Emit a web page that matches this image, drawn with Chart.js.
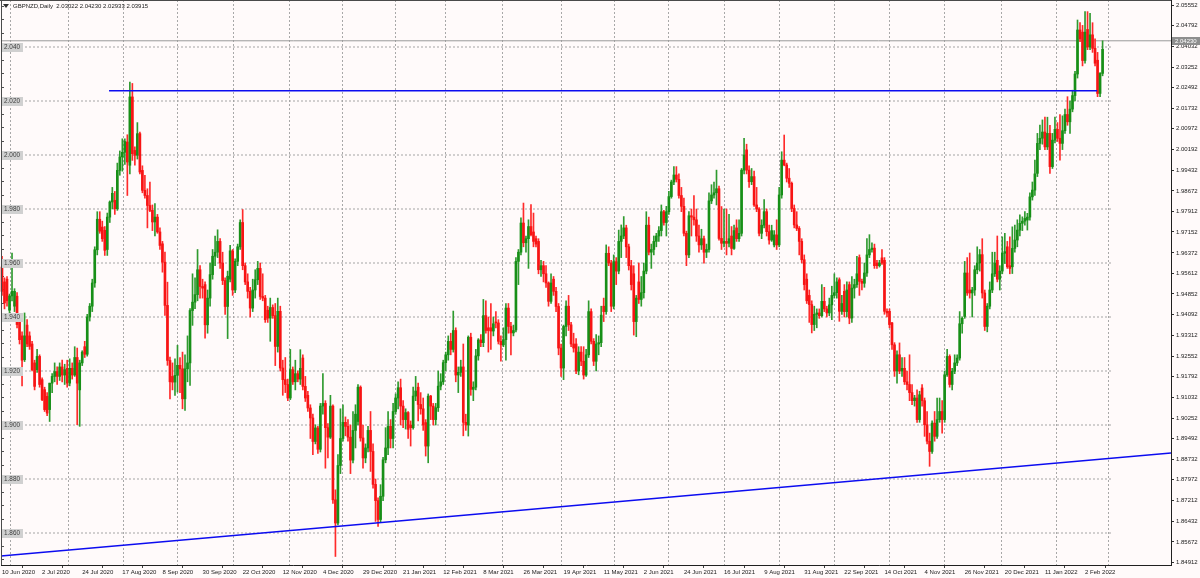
<!DOCTYPE html>
<html><head><meta charset="utf-8">
<script src="https://cdn.jsdelivr.net/npm/chart.js@4.4.1/dist/chart.umd.min.js"></script>
<style>html,body{margin:0;padding:0;background:#fffafa;overflow:hidden}canvas{display:block}</style>
</head><body>
<canvas id="c" width="1200" height="578"></canvas>
<script>
const symbolTitle = "GBPNZD,Daily";
const lastQuote = ["2.03022", "2.04230", "2.02933", "2.03915"];
const bidPrice = 2.04230;
const bidLabel = "2.04230";

const dateLabels = ["10 Jun 2020","2 Jul 2020","24 Jul 2020","17 Aug 2020","8 Sep 2020","30 Sep 2020","22 Oct 2020","12 Nov 2020","4 Dec 2020","29 Dec 2020","21 Jan 2021","12 Feb 2021","8 Mar 2021","26 Mar 2021","19 Apr 2021","11 May 2021","2 Jun 2021","24 Jun 2021","16 Jul 2021","9 Aug 2021","31 Aug 2021","22 Sep 2021","14 Oct 2021","4 Nov 2021","26 Nov 2021","20 Dec 2021","11 Jan 2022","2 Feb 2022"];
const dateIdx = [0,16,32,48,64,80,96,112,128,144,160,176,192,208,224,240,256,272,288,304,320,336,352,368,384,400,416,432];
const monthIdx = [15,38,59,81,104,125,147,167,187,212,234,255,277,299,321,343,365,387,410,431];

const priceTicks = ["2.05552","2.04792","2.04032","2.03252","2.02492","2.01732","2.00972","2.00192","1.99432","1.98672","1.97912","1.97152","1.96372","1.95612","1.94852","1.94092","1.93312","1.92552","1.91792","1.91032","1.90252","1.89492","1.88732","1.87972","1.87212","1.86432","1.85672","1.84912"];
const leftTickVals = [1.850,1.855,1.860,1.865,1.870,1.875,1.880,1.885,1.890,1.895,1.900,1.905,1.910,1.915,1.920,1.925,1.930,1.935,1.940,1.945,1.950,1.955,1.960,1.965,1.970,1.975,1.980,1.985,1.990,1.995,2.000,2.005,2.010,2.015,2.020,2.025,2.030,2.035,2.040,2.045,2.050,2.055];

const roundLevels = [2.040,2.020,2.000,1.980,1.960,1.940,1.920,1.900,1.880,1.860];
const levelLabels = ["2.040","2.020","2.000","1.980","1.960","1.940","1.920","1.900","1.880","1.860"];
const levelEndX = 442.8;

const resistanceX = [42.7, 436.8];
const resistanceY = [2.0238, 2.0238];
const trendX = [-0.4, 466.3];
const trendY = [1.85148, 1.88963];

const openP = [
1.9585,1.9530,1.9540,1.9425,1.9478,1.9440,1.9477,1.9400,1.9330,1.9242,
1.9370,1.9330,1.9300,1.9230,1.9205,1.9254,1.9168,1.9131,1.9106,1.9057,
1.9155,1.9180,1.9198,1.9180,1.9215,1.9185,1.9210,1.9155,1.9210,1.9185,
1.9250,1.9130,1.9230,1.9290,1.9262,1.9400,1.9440,1.9526,1.9649,1.9762,
1.9733,1.9721,1.9650,1.9770,1.9826,1.9832,1.9801,1.9943,1.9993,2.0010,
2.0048,1.9962,2.0215,2.0017,1.9999,2.0079,1.9943,1.9869,1.9850,1.9813,
1.9795,1.9752,1.9770,1.9715,1.9671,1.9603,1.9443,1.9239,1.9180,1.9159,
1.9184,1.9221,1.9208,1.9097,1.9208,1.9230,1.9424,1.9455,1.9483,1.9575,
1.9513,1.9520,1.9371,1.9470,1.9557,1.9625,1.9640,1.9680,1.9600,1.9535,
1.9439,1.9540,1.9645,1.9500,1.9606,1.9660,1.9750,1.9590,1.9530,1.9495,
1.9433,1.9500,1.9538,1.9580,1.9476,1.9470,1.9425,1.9396,1.9435,1.9405,
1.9291,1.9421,1.9211,1.9168,1.9150,1.9100,1.9205,1.9160,1.9190,1.9170,
1.9248,1.9143,1.9110,1.9063,1.9026,1.8939,1.8989,1.8910,1.9070,1.9080,
1.8990,1.8955,1.9070,1.8723,1.8637,1.8850,1.8950,1.9010,1.8995,1.8955,
1.8870,1.8980,1.9013,1.9140,1.8952,1.8878,1.8915,1.8980,1.8902,1.8780,
1.8720,1.8650,1.8736,1.8871,1.8915,1.8995,1.8950,1.9050,1.9100,1.9138,
1.9070,1.9020,1.9046,1.9000,1.8990,1.9107,1.9140,1.9076,1.9060,1.9009,
1.8922,1.9107,1.9070,1.9020,1.9064,1.9144,1.9160,1.9231,1.9260,1.9310,
1.9280,1.9350,1.9185,1.9195,1.9215,1.9010,1.9000,1.9325,1.9132,1.9140,
1.9256,1.9315,1.9305,1.9405,1.9360,1.9360,1.9348,1.9380,1.9378,1.9310,
1.9297,1.9316,1.9433,1.9365,1.9341,1.9352,1.9606,1.9640,1.9748,1.9675,
1.9690,1.9735,1.9715,1.9690,1.9680,1.9575,1.9590,1.9560,1.9526,1.9458,
1.9540,1.9495,1.9439,1.9285,1.9211,1.9365,1.9440,1.9371,1.9300,1.9300,
1.9200,1.9270,1.9236,1.9185,1.9260,1.9420,1.9310,1.9236,1.9300,1.9305,
1.9440,1.9420,1.9636,1.9600,1.9440,1.9605,1.9570,1.9680,1.9700,1.9730,
1.9660,1.9590,1.9560,1.9383,1.9530,1.9465,1.9490,1.9570,1.9740,1.9640,
1.9650,1.9680,1.9700,1.9720,1.9790,1.9750,1.9790,1.9846,1.9900,1.9926,
1.9910,1.9850,1.9810,1.9710,1.9630,1.9775,1.9770,1.9760,1.9700,1.9667,
1.9690,1.9640,1.9650,1.9830,1.9852,1.9860,1.9875,1.9691,1.9673,1.9680,
1.9673,1.9700,1.9654,1.9730,1.9690,1.9710,1.9944,2.0019,1.9944,1.9901,
1.9920,1.9815,1.9800,1.9710,1.9740,1.9790,1.9716,1.9685,1.9667,1.9704,
1.9667,1.9852,1.9981,1.9963,1.9914,1.9895,1.9802,1.9741,1.9728,1.9680,
1.9612,1.9540,1.9480,1.9446,1.9372,1.9410,1.9415,1.9405,1.9458,1.9430,
1.9415,1.9445,1.9480,1.9490,1.9538,1.9421,1.9495,1.9420,1.9520,1.9396,
1.9507,1.9520,1.9620,1.9532,1.9525,1.9563,1.9630,1.9650,1.9655,1.9600,
1.9590,1.9619,1.9610,1.9421,1.9421,1.9378,1.9297,1.9200,1.9260,1.9200,
1.9210,1.9160,1.9150,1.9120,1.9090,1.9100,1.9020,1.9137,1.9090,1.9001,
1.8940,1.8902,1.9007,1.8958,1.9020,1.9050,1.9020,1.9186,1.9254,1.9150,
1.9199,1.9230,1.9248,1.9375,1.9402,1.9563,1.9500,1.9489,1.9500,1.9575,
1.9600,1.9631,1.9489,1.9365,1.9440,1.9500,1.9560,1.9610,1.9540,1.9570,
1.9636,1.9660,1.9590,1.9586,1.9654,1.9685,1.9722,1.9747,1.9755,1.9759,
1.9770,1.9845,1.9870,1.9932,2.0043,2.0062,2.0085,2.0030,2.0080,1.9957,
2.0055,2.0095,2.0062,2.0043,2.0090,2.0150,2.0123,2.0170,2.0220,2.0300,
2.0463,2.0455,2.0350,2.0465,2.0400,2.0445,2.0395,2.0351,2.0228,2.03022];

const highP = [
1.9625,1.9545,1.9550,1.9485,1.9637,1.9505,1.9490,1.9410,1.9345,1.9415,
1.9390,1.9345,1.9310,1.9240,1.9280,1.9260,1.9175,1.9140,1.9120,1.9155,
1.9190,1.9230,1.9215,1.9230,1.9240,1.9225,1.9240,1.9245,1.9230,1.9290,
1.9285,1.9240,1.9275,1.9310,1.9410,1.9450,1.9540,1.9660,1.9790,1.9790,
1.9755,1.9735,1.9785,1.9830,1.9880,1.9865,1.9970,2.0015,2.0060,2.0060,
2.0075,2.0270,2.0265,2.0030,2.0120,2.0085,1.9960,1.9925,1.9875,1.9900,
1.9815,1.9820,1.9780,1.9730,1.9680,1.9640,1.9529,1.9252,1.9230,1.9245,
1.9295,1.9250,1.9270,1.9260,1.9330,1.9431,1.9560,1.9545,1.9650,1.9590,
1.9540,1.9530,1.9500,1.9600,1.9650,1.9700,1.9723,1.9690,1.9640,1.9545,
1.9570,1.9665,1.9650,1.9615,1.9670,1.9760,1.9798,1.9600,1.9560,1.9510,
1.9540,1.9575,1.9606,1.9600,1.9560,1.9480,1.9440,1.9470,1.9445,1.9450,
1.9470,1.9440,1.9240,1.9250,1.9170,1.9280,1.9215,1.9240,1.9200,1.9279,
1.9260,1.9180,1.9125,1.9075,1.9040,1.9001,1.8995,1.9080,1.9190,1.9090,
1.9005,1.9110,1.9075,1.8760,1.8890,1.9060,1.9075,1.9030,1.9020,1.9000,
1.9050,1.9075,1.9150,1.9145,1.9000,1.8930,1.8995,1.9050,1.8930,1.8800,
1.8730,1.8779,1.8880,1.8990,1.9050,1.9020,1.9080,1.9115,1.9160,1.9170,
1.9090,1.9060,1.9050,1.9015,1.9140,1.9180,1.9155,1.9120,1.9100,1.9020,
1.9115,1.9110,1.9080,1.9080,1.9200,1.9190,1.9240,1.9270,1.9330,1.9340,
1.9422,1.9360,1.9215,1.9240,1.9300,1.9040,1.9330,1.9340,1.9160,1.9280,
1.9320,1.9335,1.9465,1.9460,1.9400,1.9450,1.9400,1.9420,1.9390,1.9330,
1.9360,1.9450,1.9450,1.9380,1.9370,1.9620,1.9650,1.9767,1.9822,1.9700,
1.9760,1.9816,1.9785,1.9700,1.9690,1.9610,1.9606,1.9590,1.9530,1.9560,
1.9550,1.9510,1.9450,1.9300,1.9370,1.9460,1.9480,1.9380,1.9340,1.9320,
1.9290,1.9290,1.9290,1.9280,1.9460,1.9430,1.9320,1.9335,1.9330,1.9440,
1.9470,1.9667,1.9660,1.9610,1.9630,1.9620,1.9722,1.9741,1.9772,1.9740,
1.9670,1.9610,1.9590,1.9480,1.9600,1.9550,1.9600,1.9790,1.9770,1.9670,
1.9700,1.9710,1.9735,1.9815,1.9795,1.9810,1.9865,1.9907,1.9957,1.9957,
1.9930,1.9880,1.9840,1.9718,1.9790,1.9800,1.9850,1.9800,1.9740,1.9725,
1.9700,1.9670,1.9860,1.9890,1.9900,1.9944,1.9885,1.9809,1.9800,1.9800,
1.9780,1.9735,1.9740,1.9760,1.9760,1.9950,2.0062,2.0040,1.9960,1.9950,
1.9940,1.9880,1.9805,1.9760,1.9835,1.9800,1.9740,1.9740,1.9720,1.9760,
1.9880,2.0012,2.0074,1.9970,1.9950,1.9900,1.9815,1.9790,1.9735,1.9690,
1.9630,1.9560,1.9500,1.9460,1.9440,1.9430,1.9430,1.9520,1.9510,1.9440,
1.9470,1.9514,1.9560,1.9545,1.9545,1.9480,1.9520,1.9530,1.9530,1.9550,
1.9540,1.9625,1.9630,1.9540,1.9600,1.9690,1.9705,1.9675,1.9670,1.9610,
1.9610,1.9650,1.9620,1.9430,1.9430,1.9380,1.9305,1.9275,1.9304,1.9250,
1.9250,1.9200,1.9260,1.9150,1.9110,1.9130,1.9125,1.9150,1.9100,1.9050,
1.8970,1.9015,1.9050,1.9100,1.9100,1.9090,1.9200,1.9280,1.9260,1.9210,
1.9260,1.9260,1.9420,1.9400,1.9606,1.9620,1.9637,1.9510,1.9590,1.9660,
1.9650,1.9690,1.9500,1.9450,1.9530,1.9640,1.9640,1.9700,1.9590,1.9697,
1.9710,1.9680,1.9697,1.9734,1.9740,1.9760,1.9778,1.9771,1.9790,1.9784,
1.9860,1.9900,1.9981,2.0080,2.0111,2.0130,2.0140,2.0140,2.0110,2.0080,
2.0140,2.0120,2.0150,2.0145,2.0170,2.0216,2.0200,2.0240,2.0310,2.0500,
2.0490,2.0480,2.0531,2.0531,2.0525,2.0490,2.0430,2.0380,2.0305,2.04230];

const lowP = [
1.9480,1.9430,1.9440,1.9400,1.9460,1.9420,1.9360,1.9300,1.9145,1.9235,
1.9290,1.9280,1.9200,1.9130,1.9195,1.9140,1.9090,1.9050,1.9035,1.9013,
1.9120,1.9160,1.9150,1.9165,1.9160,1.9150,1.9140,1.9145,1.9170,1.9180,
1.9001,1.8995,1.9220,1.9250,1.9255,1.9385,1.9420,1.9510,1.9630,1.9710,
1.9680,1.9628,1.9628,1.9750,1.9800,1.9780,1.9795,1.9925,1.9940,1.9965,
1.9850,1.9930,1.9980,1.9962,1.9985,1.9930,1.9860,1.9840,1.9730,1.9790,
1.9720,1.9700,1.9710,1.9650,1.9566,1.9406,1.9221,1.9097,1.9130,1.9110,
1.9122,1.9120,1.9060,1.9054,1.9160,1.9147,1.9369,1.9431,1.9460,1.9470,
1.9470,1.9322,1.9340,1.9440,1.9540,1.9590,1.9620,1.9580,1.9520,1.9410,
1.9320,1.9530,1.9480,1.9490,1.9590,1.9650,1.9575,1.9520,1.9470,1.9400,
1.9420,1.9470,1.9520,1.9465,1.9460,1.9380,1.9380,1.9310,1.9395,1.9220,
1.9270,1.9200,1.9110,1.9120,1.9090,1.9094,1.9150,1.9130,1.9160,1.9150,
1.9130,1.9087,1.9050,1.8950,1.8890,1.8930,1.8895,1.8900,1.9040,1.8840,
1.8878,1.8950,1.8710,1.8513,1.8630,1.8820,1.8940,1.8960,1.8940,1.8820,
1.8860,1.8915,1.9000,1.8940,1.8840,1.8860,1.8900,1.8828,1.8766,1.8643,
1.8624,1.8640,1.8720,1.8860,1.8890,1.8915,1.8915,1.9040,1.9060,1.9000,
1.8990,1.8985,1.8950,1.8922,1.8985,1.9090,1.9015,1.9040,1.8980,1.8885,
1.8860,1.9020,1.9000,1.9000,1.9050,1.9130,1.9150,1.9200,1.9240,1.9260,
1.9270,1.9160,1.9120,1.9180,1.8960,1.8980,1.8959,1.9110,1.9090,1.9130,
1.9240,1.9290,1.9290,1.9340,1.9270,1.9280,1.9330,1.9360,1.9300,1.9236,
1.9290,1.9240,1.9340,1.9260,1.9330,1.9345,1.9520,1.9630,1.9660,1.9640,
1.9580,1.9700,1.9660,1.9660,1.9560,1.9550,1.9530,1.9510,1.9440,1.9450,
1.9480,1.9420,1.9260,1.9180,1.9168,1.9330,1.9350,1.9290,1.9270,1.9190,
1.9186,1.9220,1.9170,1.9180,1.9250,1.9300,1.9220,1.9200,1.9260,1.9290,
1.9383,1.9410,1.9590,1.9420,1.9430,1.9520,1.9560,1.9620,1.9690,1.9620,
1.9574,1.9500,1.9333,1.9327,1.9450,1.9440,1.9470,1.9560,1.9630,1.9580,
1.9630,1.9660,1.9680,1.9700,1.9740,1.9700,1.9780,1.9840,1.9890,1.9900,
1.9840,1.9790,1.9700,1.9590,1.9620,1.9700,1.9740,1.9680,1.9640,1.9650,
1.9599,1.9620,1.9640,1.9820,1.9840,1.9815,1.9685,1.9650,1.9660,1.9630,
1.9660,1.9630,1.9650,1.9680,1.9680,1.9700,1.9930,1.9930,1.9880,1.9890,
1.9810,1.9790,1.9700,1.9690,1.9730,1.9700,1.9670,1.9680,1.9660,1.9650,
1.9660,1.9840,1.9960,1.9900,1.9880,1.9790,1.9730,1.9720,1.9630,1.9600,
1.9500,1.9450,1.9380,1.9341,1.9350,1.9360,1.9395,1.9400,1.9420,1.9400,
1.9405,1.9390,1.9470,1.9470,1.9384,1.9410,1.9400,1.9400,1.9375,1.9380,
1.9470,1.9510,1.9480,1.9500,1.9510,1.9550,1.9620,1.9640,1.9580,1.9580,
1.9585,1.9595,1.9410,1.9400,1.9360,1.9280,1.9180,1.9155,1.9190,1.9180,
1.9150,1.9130,1.9090,1.9075,1.9070,1.9010,1.9010,1.9070,1.8958,1.8930,
1.8847,1.8895,1.8940,1.8950,1.9010,1.8970,1.9010,1.9180,1.9140,1.9130,
1.9190,1.9220,1.9240,1.9340,1.9395,1.9480,1.9470,1.9400,1.9480,1.9560,
1.9570,1.9470,1.9350,1.9345,1.9430,1.9490,1.9550,1.9530,1.9500,1.9560,
1.9598,1.9580,1.9560,1.9561,1.9640,1.9660,1.9700,1.9720,1.9740,1.9722,
1.9759,1.9833,1.9850,1.9920,2.0020,2.0040,2.0020,2.0020,1.9932,1.9950,
2.0045,2.0050,1.9981,2.0020,2.0080,2.0110,2.0080,2.0160,2.0200,2.0285,
2.0420,2.0330,2.0340,2.0390,2.0390,2.0380,2.0330,2.0216,2.0216,2.02933];

const closeP = [
1.9495,1.9452,1.9460,1.9478,1.9495,1.9495,1.9372,1.9316,1.9240,1.9330,
1.9300,1.9291,1.9205,1.9143,1.9254,1.9150,1.9094,1.9057,1.9044,1.9155,
1.9180,1.9198,1.9180,1.9215,1.9185,1.9205,1.9155,1.9210,1.9185,1.9250,
1.9155,1.9230,1.9270,1.9262,1.9400,1.9440,1.9526,1.9649,1.9762,1.9718,
1.9690,1.9647,1.9770,1.9826,1.9858,1.9801,1.9943,1.9993,2.0010,2.0050,
1.9974,2.0215,2.0005,1.9999,2.0079,1.9937,1.9869,1.9850,1.9813,1.9795,
1.9752,1.9770,1.9715,1.9665,1.9603,1.9443,1.9239,1.9160,1.9159,1.9184,
1.9221,1.9208,1.9097,1.9208,1.9230,1.9424,1.9455,1.9483,1.9575,1.9513,
1.9507,1.9371,1.9470,1.9557,1.9625,1.9640,1.9680,1.9600,1.9535,1.9439,
1.9551,1.9645,1.9500,1.9606,1.9660,1.9750,1.9590,1.9530,1.9495,1.9433,
1.9500,1.9538,1.9580,1.9476,1.9470,1.9390,1.9396,1.9435,1.9405,1.9291,
1.9421,1.9211,1.9168,1.9150,1.9100,1.9205,1.9160,1.9190,1.9170,1.9210,
1.9143,1.9100,1.9063,1.9026,1.8939,1.8989,1.8910,1.9070,1.9080,1.8990,
1.8955,1.9070,1.8723,1.8637,1.8850,1.8950,1.9010,1.8995,1.8955,1.8870,
1.8980,1.9040,1.9140,1.8952,1.8878,1.8915,1.8980,1.8902,1.8780,1.8720,
1.8650,1.8736,1.8871,1.8915,1.8995,1.8950,1.9050,1.9100,1.9138,1.9070,
1.9020,1.9046,1.8984,1.8990,1.9107,1.9126,1.9076,1.9060,1.9000,1.8922,
1.9107,1.9070,1.9020,1.9064,1.9144,1.9160,1.9231,1.9260,1.9310,1.9280,
1.9350,1.9185,1.9195,1.9215,1.9010,1.9000,1.9325,1.9132,1.9140,1.9256,
1.9315,1.9305,1.9405,1.9350,1.9350,1.9348,1.9375,1.9378,1.9310,1.9297,
1.9316,1.9433,1.9365,1.9341,1.9350,1.9606,1.9640,1.9748,1.9675,1.9690,
1.9735,1.9705,1.9680,1.9670,1.9575,1.9590,1.9560,1.9526,1.9458,1.9526,
1.9495,1.9439,1.9285,1.9211,1.9365,1.9440,1.9371,1.9300,1.9285,1.9200,
1.9270,1.9236,1.9185,1.9260,1.9420,1.9310,1.9236,1.9300,1.9305,1.9407,
1.9420,1.9636,1.9600,1.9440,1.9605,1.9570,1.9680,1.9700,1.9730,1.9660,
1.9590,1.9520,1.9383,1.9470,1.9465,1.9490,1.9570,1.9740,1.9640,1.9650,
1.9680,1.9700,1.9720,1.9790,1.9750,1.9790,1.9846,1.9900,1.9926,1.9910,
1.9850,1.9810,1.9710,1.9630,1.9775,1.9770,1.9760,1.9700,1.9667,1.9690,
1.9640,1.9650,1.9830,1.9852,1.9860,1.9875,1.9691,1.9673,1.9680,1.9673,
1.9690,1.9654,1.9720,1.9690,1.9710,1.9944,2.0000,1.9944,1.9901,1.9920,
1.9815,1.9800,1.9710,1.9740,1.9790,1.9716,1.9685,1.9720,1.9704,1.9667,
1.9852,1.9981,1.9963,1.9914,1.9895,1.9802,1.9741,1.9728,1.9680,1.9612,
1.9520,1.9460,1.9446,1.9372,1.9410,1.9415,1.9405,1.9458,1.9430,1.9415,
1.9445,1.9480,1.9490,1.9530,1.9421,1.9450,1.9420,1.9500,1.9396,1.9507,
1.9520,1.9560,1.9532,1.9525,1.9563,1.9630,1.9650,1.9655,1.9590,1.9590,
1.9600,1.9600,1.9421,1.9415,1.9372,1.9297,1.9200,1.9260,1.9200,1.9210,
1.9160,1.9150,1.9120,1.9090,1.9100,1.9020,1.9112,1.9090,1.9001,1.8940,
1.8902,1.9007,1.8958,1.9020,1.9050,1.9020,1.9186,1.9254,1.9150,1.9199,
1.9230,1.9248,1.9375,1.9395,1.9563,1.9489,1.9489,1.9500,1.9575,1.9600,
1.9631,1.9489,1.9365,1.9440,1.9500,1.9560,1.9600,1.9540,1.9570,1.9636,
1.9642,1.9586,1.9580,1.9654,1.9685,1.9722,1.9747,1.9755,1.9765,1.9770,
1.9845,1.9870,1.9930,2.0043,2.0062,2.0085,2.0030,2.0080,1.9957,2.0055,
2.0095,2.0062,2.0043,2.0090,2.0150,2.0123,2.0170,2.0220,2.0300,2.0463,
2.0430,2.0350,2.0455,2.0400,2.0445,2.0395,2.0340,2.0228,2.0302,2.03915];

// ---- view window ----
const XMIN = 0.798, XMAX = 466.29;
const YMIN = 1.848148, YMAX = 2.057407;
const FONT = "'Liberation Sans', Arial, sans-serif";
const BG = '#fffafa';
const UP = '#178f17', DOWN = '#f71414';
const UPW = '#2f9a2f', DOWNW = '#ff2a2a';

const isUp = closeP.map((c, i) => c >= openP[i]);
const CLIP = {left:4, right:0, top:0, bottom:0};

const datasets = [];
roundLevels.forEach(lv => {
  datasets.push({type:'line', data:[{x:-0.4,y:lv},{x:levelEndX,y:lv}], borderColor:'#a4a4a4', borderWidth:1, borderDash:[2,2], pointRadius:0, order:10, clip:CLIP});
});
datasets.push({type:'line', data:[{x:-0.4,y:bidPrice},{x:XMAX,y:bidPrice}], borderColor:'#9a9a9a', borderWidth:1, pointRadius:0, order:9, clip:CLIP});
datasets.push({type:'bar', data: highP.map((h,i)=>({x:i, y:[lowP[i], h]})), backgroundColor: isUp.map(u=>u?UPW:DOWNW), barThickness:1, grouped:false, order:6, minBarLength:1, clip:CLIP});
datasets.push({type:'bar', data: openP.map((o,i)=>({x:i, y:[o, closeP[i]]})), backgroundColor: isUp.map(u=>u?UP:DOWN), barThickness:2, grouped:false, order:5, minBarLength:1, clip:CLIP});
datasets.push({type:'line', data:[{x:resistanceX[0],y:resistanceY[0]},{x:resistanceX[1],y:resistanceY[1]}], borderColor:'#0c0cf0', borderWidth:1.4, pointRadius:0, order:1});
datasets.push({type:'line', data:[{x:trendX[0],y:trendY[0]},{x:trendX[1],y:trendY[1]}], borderColor:'#0c0cf0', borderWidth:1.4, pointRadius:0, order:1, clip:CLIP});

const noPad = (s) => { s.paddingTop = 0; s.paddingBottom = 0; s.paddingLeft = 0; s.paddingRight = 0; };

const overlay = {
  id:'overlay',
  beforeDraw(chart){
    const c = chart.ctx; c.save(); c.fillStyle = BG; c.fillRect(0,0,chart.width,chart.height); c.restore();
  },
  afterDatasetsDraw(chart){
    const c = chart.ctx, y = chart.scales.y;
    c.save();
    c.font = '6.4px ' + FONT; c.textBaseline = 'middle'; c.textAlign = 'left';
    roundLevels.forEach((lv,k)=>{
      const py = Math.round(y.getPixelForValue(lv));
      c.fillStyle = '#d0d0d0'; c.fillRect(1, py-4, 22, 9);
      c.fillStyle = '#3c3c3c'; c.fillText(levelLabels[k], 4, py+0.5);
    });
    c.restore();
  },
  afterDraw(chart){
    const c = chart.ctx, a = chart.chartArea, y = chart.scales.y;
    c.save();
    c.strokeStyle = '#4a4a4a'; c.lineWidth = 1;
    c.beginPath();
    c.moveTo(1.5, 0); c.lineTo(1.5, a.bottom + 0.5);
    c.moveTo(0, 0.5); c.lineTo(a.right + 1, 0.5);
    c.stroke();
    c.strokeStyle = '#202020';
    c.beginPath();
    c.moveTo(a.right + 0.5, 0); c.lineTo(a.right + 0.5, a.bottom + 1);
    c.moveTo(1, a.bottom + 0.5); c.lineTo(a.right + 1, a.bottom + 0.5);
    c.stroke();
    // header
    c.fillStyle = '#303030';
    c.beginPath(); c.moveTo(3, 4); c.lineTo(9, 4); c.lineTo(6, 8); c.closePath(); c.fill();
    c.font = '6px ' + FONT; c.textBaseline = 'middle'; c.textAlign = 'left';
    c.fillStyle = '#202020';
    c.fillText(symbolTitle + '  ' + lastQuote.join(' '), 13, 6.5);
    // bid label on price axis
    const py = Math.round(y.getPixelForValue(bidPrice));
    c.fillStyle = '#8e8e8e'; c.fillRect(a.right + 1, py - 4, 28, 8);
    c.fillStyle = '#ffffff'; c.fillText(bidLabel, a.right + 4, py + 0.5);
    c.restore();
  }
};

new Chart(document.getElementById('c'), {
  type:'bar',
  data:{ datasets },
  options:{
    responsive:false, devicePixelRatio:1, animation:false, normalized:true,
    layout:{padding:0},
    plugins:{legend:{display:false}, tooltip:{enabled:false}, title:{display:false}},
    scales:{
      x:{type:'linear', position:'bottom', min:XMIN, max:XMAX, offset:false,
        grid:{drawOnChartArea:false, drawTicks:true, tickLength:3, color:'#404040'},
        border:{display:false},
        ticks:{autoSkip:false, maxRotation:0, minRotation:0, align:'start', padding:1, color:'#202020', font:{size:6, family:FONT},
          callback:(v)=>{ const k = dateIdx.indexOf(v); return k >= 0 ? dateLabels[k] : ''; }},
        afterBuildTicks:(s)=>{ s.ticks = dateIdx.map(v=>({value:v})); },
        afterFit:(s)=>{ s.height = 13; noPad(s); }
      },
      xm:{type:'linear', position:'top', min:XMIN, max:XMAX, offset:false, display:true,
        grid:{drawOnChartArea:true, drawTicks:false, color:'#a8a8a8', lineWidth:1},
        border:{display:false, dash:[2,2]},
        ticks:{display:false},
        afterBuildTicks:(s)=>{ s.ticks = monthIdx.map(v=>({value:v})); },
        afterFit:(s)=>{ s.height = 0; noPad(s); }
      },
      y:{type:'linear', position:'right', min:YMIN, max:YMAX,
        grid:{drawOnChartArea:false, drawTicks:true, tickLength:3, color:'#303030'},
        border:{display:false},
        ticks:{autoSkip:false, padding:2, color:'#202020', font:{size:6, family:FONT},
          callback:(v, i)=> priceTicks[i]},
        afterBuildTicks:(s)=>{ s.ticks = priceTicks.map(t=>({value:parseFloat(t)})); },
        afterFit:(s)=>{ s.width = 29; noPad(s); }
      },
      yl:{type:'linear', position:'left', min:YMIN, max:YMAX, display:true,
        grid:{drawOnChartArea:false, drawTicks:true, tickLength:3, color:'#505050'},
        border:{display:false},
        ticks:{display:false},
        afterBuildTicks:(s)=>{ s.ticks = leftTickVals.map(v=>({value:v})); },
        afterFit:(s)=>{ s.width = 4; noPad(s); }
      }
    }
  },
  plugins:[overlay]
});
</script>
</body></html>
